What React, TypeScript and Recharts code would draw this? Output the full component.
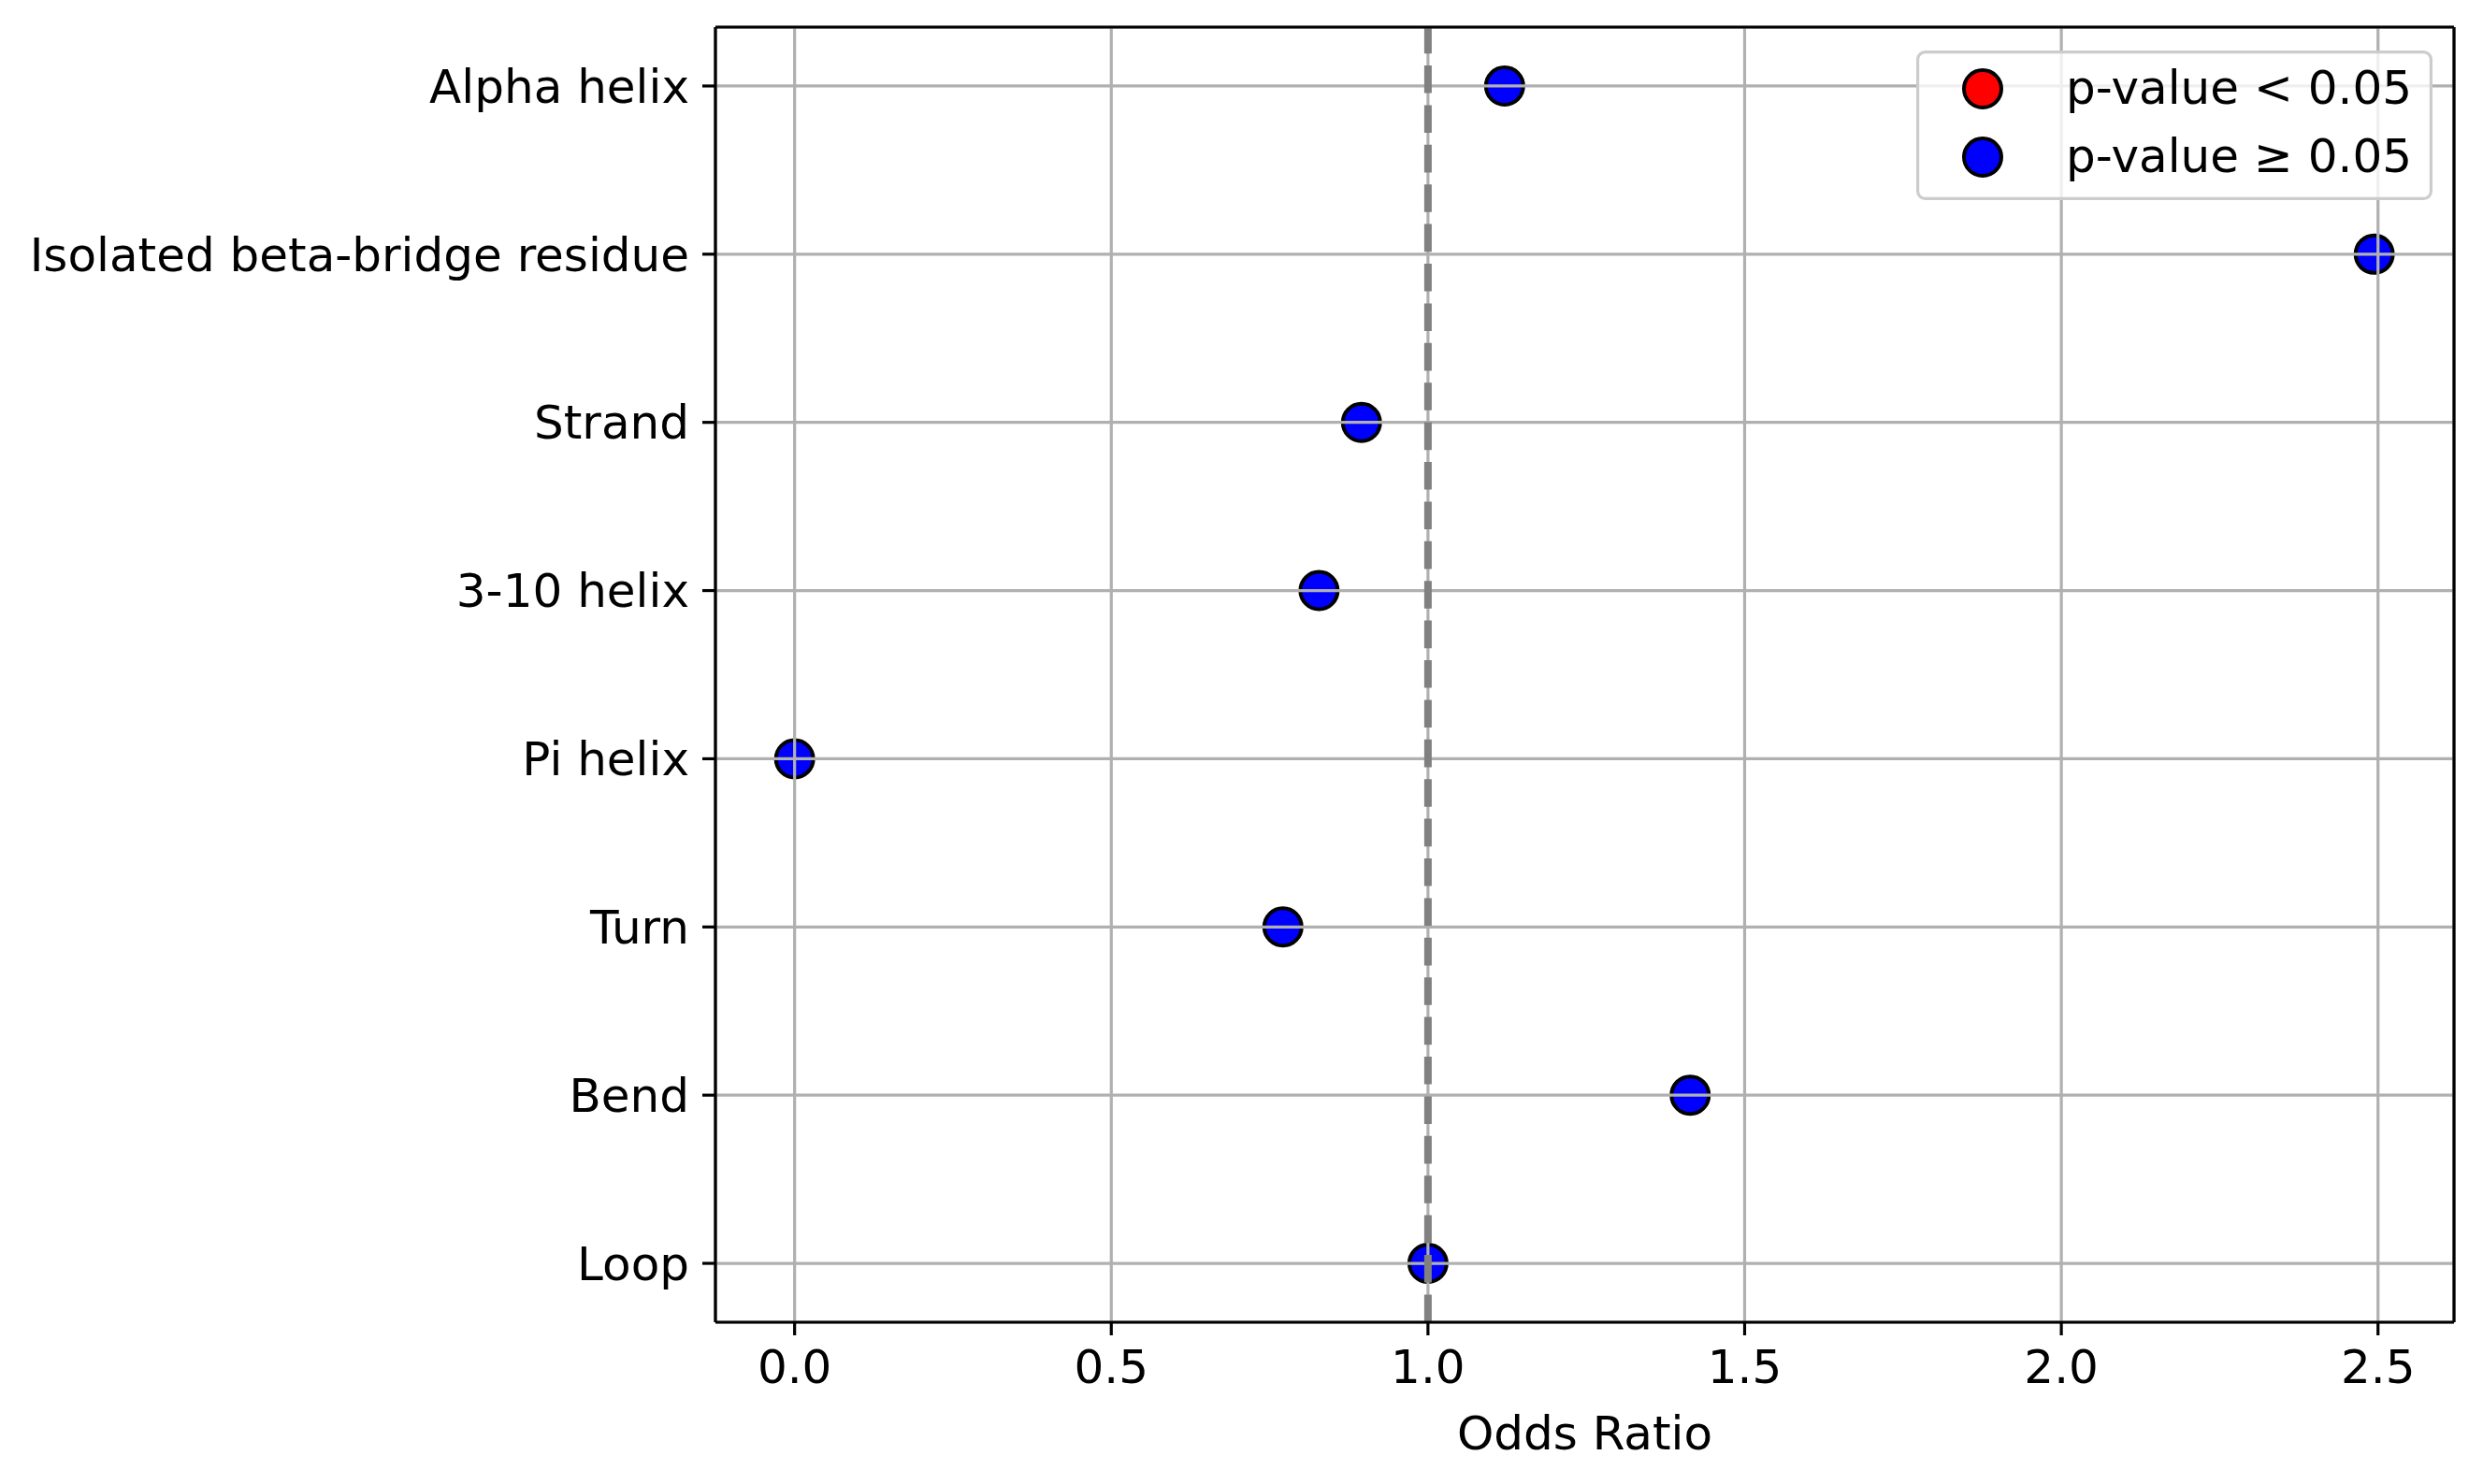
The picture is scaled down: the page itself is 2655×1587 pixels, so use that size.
import {
  CartesianGrid,
  Legend,
  ReferenceLine,
  Scatter,
  ScatterChart,
  XAxis,
  YAxis,
} from "recharts";

const categories = [
  "Alpha helix",
  "Isolated beta-bridge residue",
  "Strand",
  "3-10 helix",
  "Pi helix",
  "Turn",
  "Bend",
  "Loop",
];
const oddsRatios = [1.121, 2.494, 0.895, 0.828, 0.0, 0.771, 1.414, 1.0];
const significant = [false, false, false, false, false, false, false, false];
const xTicks = [0, 0.5, 1.0, 1.5, 2.0, 2.5];
const legendLabels = ["p-value < 0.05", "p-value \u2265 0.05"];

const X_DOMAIN = [-0.125, 2.62];
const Y_DOMAIN = [-0.35, 7.35];

const FONT = "'DejaVu Sans', sans-serif";
const SPINE = { stroke: "#000", strokeWidth: 3.2 };

const rows = categories.map((name, i) => ({
  name,
  pos: i,
  odds: oddsRatios[i],
  sig: significant[i],
}));
const sigRows = rows.filter((r) => r.sig);
const nonSigRows = rows.filter((r) => !r.sig);
const yTicks = categories.map((_, i) => i);

function Dot(props: any) {
  const { cx, cy, fill } = props;
  if (cx == null || cy == null) return null;
  return <circle cx={cx} cy={cy} r={20} fill={fill} stroke="#000" strokeWidth={4} />;
}

function LegendBox(props: any) {
  const payload = props.payload ?? [];
  return (
    <svg width={552} height={160} style={{ display: "block" }}>
      <rect
        x={1.6}
        y={1.6}
        width={548.8}
        height={156.8}
        rx={8}
        ry={8}
        fill="rgba(255,255,255,0.8)"
        stroke="#cccccc"
        strokeWidth={3.2}
      />
      {payload.map((entry: any, i: number) => (
        <g key={entry.value}>
          <circle cx={71} cy={41 + i * 73} r={20} fill={entry.color} stroke="#000" strokeWidth={4} />
          <text x={160} y={57 + i * 73} fontSize={50} fontFamily={FONT} fill="#000">
            {entry.value}
          </text>
        </g>
      ))}
    </svg>
  );
}

export default function App() {
  return (
    <div style={{ position: "absolute", left: 0, top: 0, background: "#fff" }}>
      <ScatterChart
        width={2655}
        height={1587}
        margin={{ top: 29, right: 31, left: 0, bottom: 0 }}
        style={{ fontFamily: FONT }}
      >
        <Scatter
          name={legendLabels[0]}
          data={sigRows}
          fill="#ff0000"
          shape={<Dot />}
          isAnimationActive={false}
        />
        <Scatter
          name={legendLabels[1]}
          data={nonSigRows}
          fill="#0000ff"
          shape={<Dot />}
          isAnimationActive={false}
        />
        <CartesianGrid stroke="#b0b0b0" strokeWidth={3.2} zIndex={700} />
        <ReferenceLine
          x={1}
          stroke="#808080"
          strokeWidth={8}
          strokeDasharray="29.6 12.8"
          zIndex={800}
        />
        {/* top and right spines */}
        <ReferenceLine y={Y_DOMAIN[0]} {...SPINE} zIndex={950} />
        <ReferenceLine x={X_DOMAIN[1]} {...SPINE} zIndex={950} />
        <XAxis
          type="number"
          dataKey="odds"
          domain={X_DOMAIN}
          allowDataOverflow
          ticks={xTicks}
          interval={0}
          tickFormatter={(v: number) => v.toFixed(1)}
          height={173}
          tickSize={14}
          tickMargin={15}
          stroke="#000"
          tick={{ fontSize: 50, fill: "#000", fontFamily: FONT }}
          tickLine={SPINE}
          axisLine={SPINE}
          zIndex={900}
          label={{
            value: "Odds Ratio",
            position: "insideBottom",
            offset: 37,
            fontSize: 50,
            fill: "#000",
            fontFamily: FONT,
          }}
        />
        <YAxis
          type="number"
          dataKey="pos"
          domain={Y_DOMAIN}
          allowDataOverflow
          reversed
          ticks={yTicks}
          interval={0}
          tickFormatter={(v: number) => categories[v] ?? ""}
          width={765}
          tickSize={14}
          tickMargin={14}
          stroke="#000"
          tick={{ fontSize: 50, fill: "#000", fontFamily: FONT }}
          tickLine={SPINE}
          axisLine={SPINE}
          zIndex={900}
        />
        <Legend
          layout="vertical"
          align="center"
          verticalAlign="middle"
          content={<LegendBox />}
          wrapperStyle={{ left: 2049, top: 54, width: 552, height: 160 }}
        />
      </ScatterChart>
    </div>
  );
}
